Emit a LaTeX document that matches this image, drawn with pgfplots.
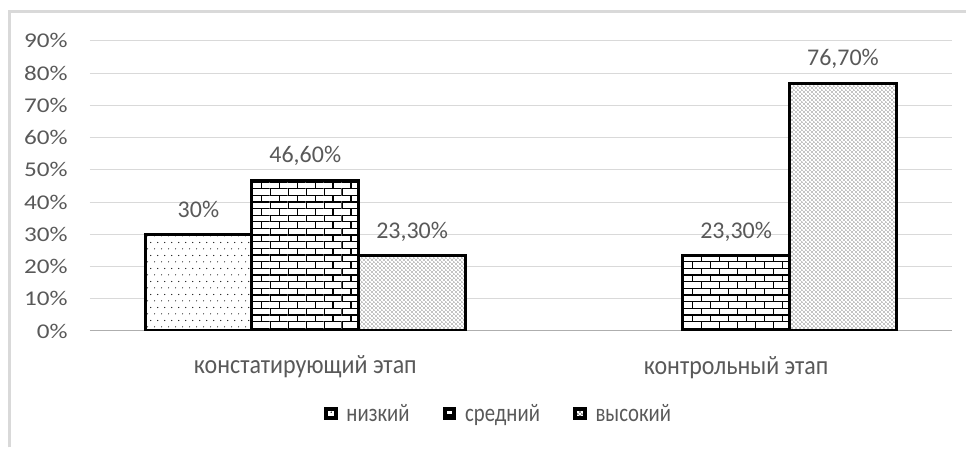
\documentclass[border=0pt]{standalone}
\usepackage{fontspec}
\setmainfont{Carlito}
\newfontfamily\tickfont[FakeStretch=1.2]{Carlito}
\newfontfamily\xfont[FakeStretch=0.9]{Carlito}
\newfontfamily\legfont[FakeStretch=0.82]{Carlito}
\usepackage{pgfplots}
\pgfplotsset{compat=1.18}
\usetikzlibrary{patterns}
\definecolor{txt}{HTML}{595959}
\definecolor{gridc}{HTML}{D9D9D9}
\definecolor{framec}{HTML}{D9D9D9}

\pgfdeclarepatternformonly{sparsedots}{\pgfpointorigin}{\pgfpoint{5pt}{10pt}}{\pgfpoint{5pt}{10pt}}{%
 \pgfpathcircle{\pgfpoint{1.25pt}{2.5pt}}{0.45pt}%
 \pgfpathcircle{\pgfpoint{3.75pt}{7.5pt}}{0.45pt}%
 \pgfusepath{fill}}
\pgfdeclarepatternformonly{densedots}{\pgfpointorigin}{\pgfpoint{3pt}{3pt}}{\pgfpoint{3pt}{3pt}}{%
 \pgfpathcircle{\pgfpoint{0.75pt}{0.75pt}}{0.38pt}%
 \pgfpathcircle{\pgfpoint{2.25pt}{2.25pt}}{0.38pt}%
 \pgfusepath{fill}}
\pgfdeclarepatternformonly{mybricks}{\pgfpoint{-0.1pt}{-0.1pt}}{\pgfpoint{13.6pt}{10.1pt}}{\pgfpoint{13.5pt}{10pt}}{%
 \pgfsetlinewidth{1pt}%
 \pgfpathmoveto{\pgfpoint{0pt}{0.5pt}}\pgfpathlineto{\pgfpoint{13.5pt}{0.5pt}}%
 \pgfpathmoveto{\pgfpoint{0pt}{5.5pt}}\pgfpathlineto{\pgfpoint{13.5pt}{5.5pt}}%
 \pgfpathmoveto{\pgfpoint{0.5pt}{0.5pt}}\pgfpathlineto{\pgfpoint{0.5pt}{5.5pt}}%
 \pgfpathmoveto{\pgfpoint{7.25pt}{5.5pt}}\pgfpathlineto{\pgfpoint{7.25pt}{10.5pt}}%
 \pgfusepath{stroke}}

\pgfplotsset{
  mybar/.style={draw=black, line width=2.25pt, fill=white, postaction={pattern=#1},
    legend image code/.code={\draw[draw=black, line width=3pt, fill=white, postaction={pattern=#1}] (0pt,-3.5pt) rectangle (7pt,3.5pt);
      \path[opacity=0, draw opacity=0, fill opacity=0] (-1.5pt,0pt) -- (12pt,0pt);}},
}

\begin{document}
\begin{tikzpicture}
\path (0pt,0pt) rectangle (725.25pt,336pt);
\draw[framec, line width=2.25pt] (7.125pt,0pt) -- (7.125pt,327pt) -- (725.25pt,327pt);
\begin{axis}[
  at={(67.5pt,87.375pt)}, anchor=south west,
  scale only axis, width=647.25pt, height=217.9pt,
  xmin=-0.5, xmax=1.5, ymin=0, ymax=90,
  ybar=0pt, bar width=0.248,
  axis x line*=bottom, axis y line*=left,
  x axis line style={draw=gridc!80!black, line width=0.75pt},
  y axis line style={draw=none},
  ytick={0,10,...,90},
  yticklabels={0\%,10\%,20\%,30\%,40\%,50\%,60\%,70\%,80\%,90\%},
  ytick style={draw=none},
  yticklabel style={font=\tickfont\fontsize{15.75}{18}\selectfont, text=txt, inner sep=0pt, anchor=east, xshift=-16.5pt},
  ymajorgrids, grid style={gridc, line width=0.75pt},
  xtick={0,1},
  xticklabels={констатирующий этап, контрольный этап},
  xtick style={draw=none},
  xticklabel style={font=\xfont\fontsize{20}{22}\selectfont, text=txt, anchor=center, yshift=-22.9pt},
  extra x ticks={-0.5,0.5,1.5},
  extra x tick labels={},
  extra x tick style={tick style={draw=gridc!80!black, line width=0.75pt}, major tick length=4pt, tick align=outside, xticklabel style={opacity=0}},
  nodes near coords, point meta=explicit symbolic,
  every node near coord/.append style={anchor=center, yshift=18.4pt, font=\fontsize{18}{20}\selectfont, text=txt},
  legend style={at={(0.474,-0.285)}, anchor=center, draw=none, fill=none,
    font=\legfont\fontsize{19}{21}\selectfont, text=txt, legend columns=-1,
    /tikz/every even column/.append style={column sep=22pt}},
]
\addplot[mybar=sparsedots] coordinates {(0,30) [30\%]};
\addplot[mybar=mybricks] coordinates {(0,46.6) [46,60\%] (1,23.3) [23,30\%]};
\addplot[mybar=densedots] coordinates {(0,23.3) [23,30\%] (1,76.7) [76,70\%]};
\legend{низкий, средний, высокий}
\end{axis}
\end{tikzpicture}
\end{document}
